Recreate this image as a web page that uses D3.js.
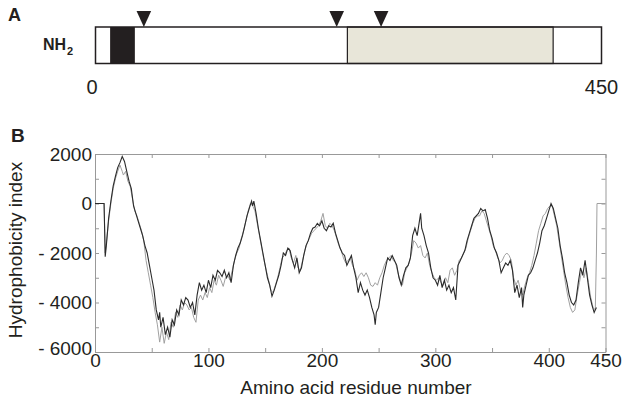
<!DOCTYPE html>
<html>
<head>
<meta charset="utf-8">
<script src="https://cdn.jsdelivr.net/npm/d3@7"></script>
<style>
  html, body { margin: 0; padding: 0; background: #fff; }
  svg { display: block; font-family: "Liberation Sans", Arial, sans-serif; }
  .frame path, .frame line { stroke: #999; stroke-width: 1; }
  .frame text { fill: #231f20; font-size: 19px; }
</style>
</head>
<body>
<svg id="chart" width="623" height="400"></svg>
<script>
// Panel A: protein domain map. Panel B: hydrophobicity profile (two sequences).

const PROTEIN_LENGTH = 450;
const BLACK_DOMAIN = [13, 35];
const SHADED_DOMAIN = [224, 407];
const ARROW_SITES = [43, 214.5, 254];

const Y_LABELLED = [2000, 0, -2000, -4000, -6000];
const X_LABELLED = [0, 100, 200, 300, 400, 450];

// dark trace
const darkResidue = [0, 8, 9, 10, 12, 14, 16, 18, 20, 22, 24, 26, 28, 30, 32, 34, 36, 38, 40, 42, 44, 46, 48, 50,
  52, 54, 56, 57, 58, 60, 62, 64, 66, 68, 70, 72, 74, 76, 78, 80, 82, 84, 86, 88, 90, 92, 94, 96, 98, 100,
  102, 104, 106, 108, 110, 112, 114, 116, 118, 120, 122, 124, 126, 128, 130, 132, 134, 136, 138, 139, 140, 142,
  144, 146, 148, 150, 152, 154, 156, 158, 160, 162, 164, 166, 168, 170, 172, 174, 176, 178, 180, 182, 184, 186,
  188, 190, 192, 194, 196, 198, 200, 202, 204, 206, 208, 210, 212, 214, 216, 218, 220, 222, 224, 226, 228, 230,
  232, 234, 236, 238, 240, 242, 244, 246, 247, 248, 250, 252, 254, 256, 258, 260, 262, 264, 266, 268, 270, 272,
  274, 276, 278, 280, 282, 284, 286, 287, 288, 290, 292, 294, 296, 298, 300, 302, 304, 306, 308, 310, 312, 314,
  316, 318, 320, 322, 324, 326, 328, 330, 332, 334, 336, 338, 340, 342, 344, 346, 348, 350, 352, 354, 356, 358,
  360, 362, 364, 366, 368, 370, 372, 374, 376, 377, 378, 380, 382, 384, 386, 388, 390, 392, 394, 396, 398, 400,
  402, 404, 406, 408, 410, 412, 414, 416, 418, 420, 422, 424, 426, 428, 430, 432, 434, 436, 438, 440, 442];
const darkValue = [0, 0, -2150, -1700, -600, 100, 700, 1100, 1450, 1650, 1900, 1700, 1300, 900, 600, -100, -400, -700, -1000, -1300, -1700, -2000, -2500, -3000,
  -3500, -4300, -4700, -4400, -5000, -4600, -5300, -5000, -5400, -4700, -4900, -4300, -4500, -3900, -4100, -3800, -3900, -4200, -4000, -4500, -3700, -3200, -3500, -3300, -3600, -3100,
  -3400, -2900, -3100, -2700, -2800, -2950, -2700, -3000, -2800, -3200, -2500, -2100, -1800, -1600, -1300, -900, -500, -200, 100, -100, 100, -400,
  -1000, -1500, -2000, -2500, -3000, -3300, -3750, -3500, -3200, -2900, -2500, -2000, -2100, -1800, -1900, -2300, -2600, -2200, -2800, -2600, -2100, -1700,
  -1500, -1200, -1000, -950, -800, -900, -700, -1000, -1100, -900, -950, -800, -1200, -1500, -1800, -2000, -2100, -2500, -2300, -2100, -2600, -3000,
  -3600, -3200, -3500, -3700, -3500, -3800, -4200, -4500, -4900, -4400, -4200, -3600, -3000, -2600, -2200, -2300, -2100, -2300, -2500, -3000, -3300, -2900,
  -2600, -2500, -2200, -1300, -1000, -1300, -700, -400, -1000, -1300, -1700, -2000, -2600, -3000, -3100, -3300, -2900, -3400, -3100, -3500, -3300, -3600,
  -3400, -3900, -2500, -2300, -2100, -1900, -1500, -1200, -900, -600, -500, -400, -200, -300, -250, -600, -1100, -1400, -1800, -2000, -2300, -2800,
  -2600, -2400, -2500, -2300, -2700, -3600, -3300, -3800, -3400, -4200, -3700, -3300, -2900, -2800, -2600, -2300, -2000, -1600, -1100, -900, -600, -300,
  0, -200, -600, -1000, -1700, -2200, -2800, -3200, -3700, -4000, -4100, -3900, -3200, -2600, -2900, -2300, -3000, -3700, -4100, -4400, -4200];

// light trace
const lightResidue = [0, 8, 9, 10, 12, 14, 16, 18, 20, 22, 24, 25, 27, 29, 31, 33, 35, 37, 39, 41, 43, 45, 47, 49,
  51, 53, 55, 57, 59, 61, 63, 65, 67, 69, 71, 73, 75, 77, 79, 81, 83, 85, 87, 89, 91, 93, 95, 97, 99, 101,
  103, 105, 107, 109, 111, 113, 115, 117, 119, 121, 123, 125, 127, 129, 131, 133, 135, 137, 139, 141, 143, 145,
  147, 149, 151, 153, 155, 157, 159, 161, 163, 165, 167, 169, 171, 173, 175, 177, 179, 181, 183, 185, 187, 189,
  191, 193, 195, 197, 199, 201, 203, 205, 207, 209, 211, 213, 215, 217, 219, 221, 223, 225, 227, 229, 231, 233,
  235, 237, 239, 241, 243, 245, 247, 249, 251, 253, 255, 257, 259, 261, 263, 265, 267, 269, 271, 273, 275, 277,
  279, 281, 283, 285, 287, 289, 291, 293, 295, 297, 299, 301, 303, 305, 307, 309, 311, 313, 315, 317, 319, 321,
  323, 325, 327, 329, 331, 333, 335, 337, 339, 341, 343, 345, 347, 349, 351, 353, 355, 357, 359, 361, 363, 365,
  367, 369, 371, 373, 375, 377, 379, 381, 383, 385, 387, 389, 391, 393, 395, 397, 399, 401, 403, 405, 407, 409,
  411, 413, 415, 417, 419, 421, 423, 425, 427, 429, 431, 433, 435, 437, 439, 441, 442, 442.5, 450];
const lightValue = [0, 0, -2000, -1600, -700, 0, 600, 1000, 1300, 1550, 1300, 1150, 1300, 900, 700, 200, -300, -500, -800, -1100, -1500, -2300, -2800, -3300,
  -3800, -4400, -4900, -5600, -5000, -5650, -5200, -5500, -4800, -5000, -4400, -4600, -4100, -4300, -4000, -4100, -4300, -4200, -4600, -4800, -3900, -3700, -3900, -3600, -3800, -3400,
  -3600, -3100, -3300, -2900, -3100, -3350, -3000, -2900, -3100, -2700, -2300, -2000, -1800, -1400, -1100, -700, -300, 0, -100, -300, -800, -1300,
  -1800, -2300, -2700, -3100, -3500, -3600, -3300, -3000, -2600, -2200, -2100, -1900, -1800, -2200, -2400, -2100, -2600, -2700, -2300, -1900, -1600, -1400,
  -1200, -1100, -1000, -900, -700, -400, -900, -1000, -800, -900, -1100, -1400, -1700, -1900, -2200, -2400, -2300, -2200, -2500, -2700, -3100, -2900,
  -2800, -2950, -2800, -3000, -3300, -3350, -3200, -3300, -3000, -2800, -2500, -2300, -2200, -2100, -2300, -2400, -2800, -3100, -3300, -2800, -2600, -2400,
  -2000, -1500, -1600, -1800, -1700, -2100, -2200, -2000, -2500, -2800, -3000, -3100, -3000, -3200, -3300, -3000, -3200, -2700, -2600, -2900, -2700, -2300,
  -2200, -2000, -1800, -1400, -1100, -800, -600, -500, -500, -300, -400, -700, -1000, -1300, -1700, -1900, -2200, -2400, -2300, -2100, -2000, -2100,
  -2300, -3000, -3300, -3100, -3500, -3700, -3300, -3000, -2800, -2500, -2100, -1600, -1100, -800, -500, -400, -200, -100, -100, -500, -900, -1500,
  -2100, -2700, -3300, -3800, -4200, -4400, -4300, -3700, -3200, -2700, -3000, -2600, -3200, -3800, -4200, -4300, -2000, 0, 0];

const svg = d3.select("#chart");
const ink = "#231f20";

// ---------- Panel A ----------
const xa = d3.scaleLinear().domain([0, PROTEIN_LENGTH]).range([95.5, 601.5]);
const barTop = 27, barH = 36.5;
const panelA = svg.append("g");

panelA.append("text").attr("x", 8).attr("y", 21)
  .attr("font-weight", "bold").attr("font-size", 18).attr("fill", ink).text("A");

const nh = panelA.append("text").attr("x", 43).attr("y", 50)
  .attr("font-weight", "bold").attr("font-size", 16).attr("fill", ink);
nh.append("tspan").text("NH");
nh.append("tspan").attr("font-size", 11).attr("dx", 1).attr("dy", 5).text("2");

panelA.append("rect")
  .attr("x", xa(SHADED_DOMAIN[0])).attr("y", barTop)
  .attr("width", xa(SHADED_DOMAIN[1]) - xa(SHADED_DOMAIN[0])).attr("height", barH)
  .attr("fill", "#e8e6d9").attr("stroke", ink).attr("stroke-width", 1.2);

panelA.append("rect")
  .attr("x", xa(BLACK_DOMAIN[0])).attr("y", barTop)
  .attr("width", xa(BLACK_DOMAIN[1]) - xa(BLACK_DOMAIN[0])).attr("height", barH)
  .attr("fill", ink);

panelA.append("rect")
  .attr("x", xa(0)).attr("y", barTop)
  .attr("width", xa(PROTEIN_LENGTH) - xa(0)).attr("height", barH)
  .attr("fill", "none").attr("stroke", ink).attr("stroke-width", 1.5);

panelA.selectAll("path.arrow")
  .data(ARROW_SITES)
  .join("path")
    .attr("class", "arrow")
    .attr("d", d => `M${xa(d) - 7.3},11 L${xa(d) + 7.3},11 L${xa(d)},27 Z`)
    .attr("fill", ink);

panelA.selectAll("text.end")
  .data([0, PROTEIN_LENGTH])
  .join("text")
    .attr("class", "end")
    .attr("x", d => xa(d) + (d === 0 ? -3.5 : 0))
    .attr("y", 94)
    .attr("text-anchor", "middle")
    .attr("font-size", 20)
    .attr("fill", ink)
    .text(d => d);

// ---------- Panel B ----------
const x = d3.scaleLinear().domain([0, PROTEIN_LENGTH]).range([95, 605.5]);
const y = d3.scaleLinear().domain([-6000, 2000]).range([352, 154]);

svg.append("text").attr("x", 11).attr("y", 142)
  .attr("font-weight", "bold").attr("font-size", 19).attr("fill", ink).text("B");

const fmtY = d => d < 0 ? "- " + Math.abs(d) : String(d);

svg.append("g").attr("class", "frame")
  .attr("transform", `translate(0,${y(-6000)})`)
  .call(d3.axisBottom(x).tickValues(d3.range(0, 451, 50)).tickSize(-4).tickSizeOuter(0).tickPadding(1)
    .tickFormat(d => X_LABELLED.includes(d) ? d : ""));

svg.append("g").attr("class", "frame")
  .attr("transform", `translate(0,${y(2000)})`)
  .call(d3.axisTop(x).tickValues(d3.range(0, 451, 50)).tickSize(-4).tickSizeOuter(0).tickFormat(""));

const yAxisG = svg.append("g").attr("class", "frame")
  .attr("transform", `translate(${x(0)},0)`)
  .call(d3.axisLeft(y).tickValues(d3.range(-6000, 2001, 1000)).tickSize(-4).tickSizeOuter(0)
    .tickFormat(d => Y_LABELLED.includes(d) ? fmtY(d) : ""));

// lowest label sits a little higher, clear of the x "0"
yAxisG.selectAll(".tick text").filter(d => d === -6000).attr("y", -4);

svg.append("g").attr("class", "frame")
  .attr("transform", `translate(${x(PROTEIN_LENGTH)},0)`)
  .call(d3.axisRight(y).tickValues(d3.range(-6000, 2001, 1000)).tickSize(-4).tickSizeOuter(0).tickFormat(""));

svg.selectAll(".frame .domain").attr("stroke", "#999");

const line = d3.line().x(d => x(d[0])).y(d => y(d[1]));

svg.append("path")
  .datum(lightResidue.map((r, i) => [r, lightValue[i]]))
  .attr("d", line)
  .attr("fill", "none").attr("stroke", "#a0a0a0").attr("stroke-width", 1);

svg.append("path")
  .datum(darkResidue.map((r, i) => [r, darkValue[i]]))
  .attr("d", line)
  .attr("fill", "none").attr("stroke", "#2b2b2b").attr("stroke-width", 1.1);

svg.append("text")
  .attr("transform", "translate(22,250) rotate(-90)")
  .attr("text-anchor", "middle").attr("font-size", 19).attr("fill", ink)
  .text("Hydrophobicity index");

svg.append("text")
  .attr("x", 356).attr("y", 394)
  .attr("text-anchor", "middle").attr("font-size", 19).attr("fill", ink)
  .text("Amino acid residue number");
</script>
</body>
</html>
